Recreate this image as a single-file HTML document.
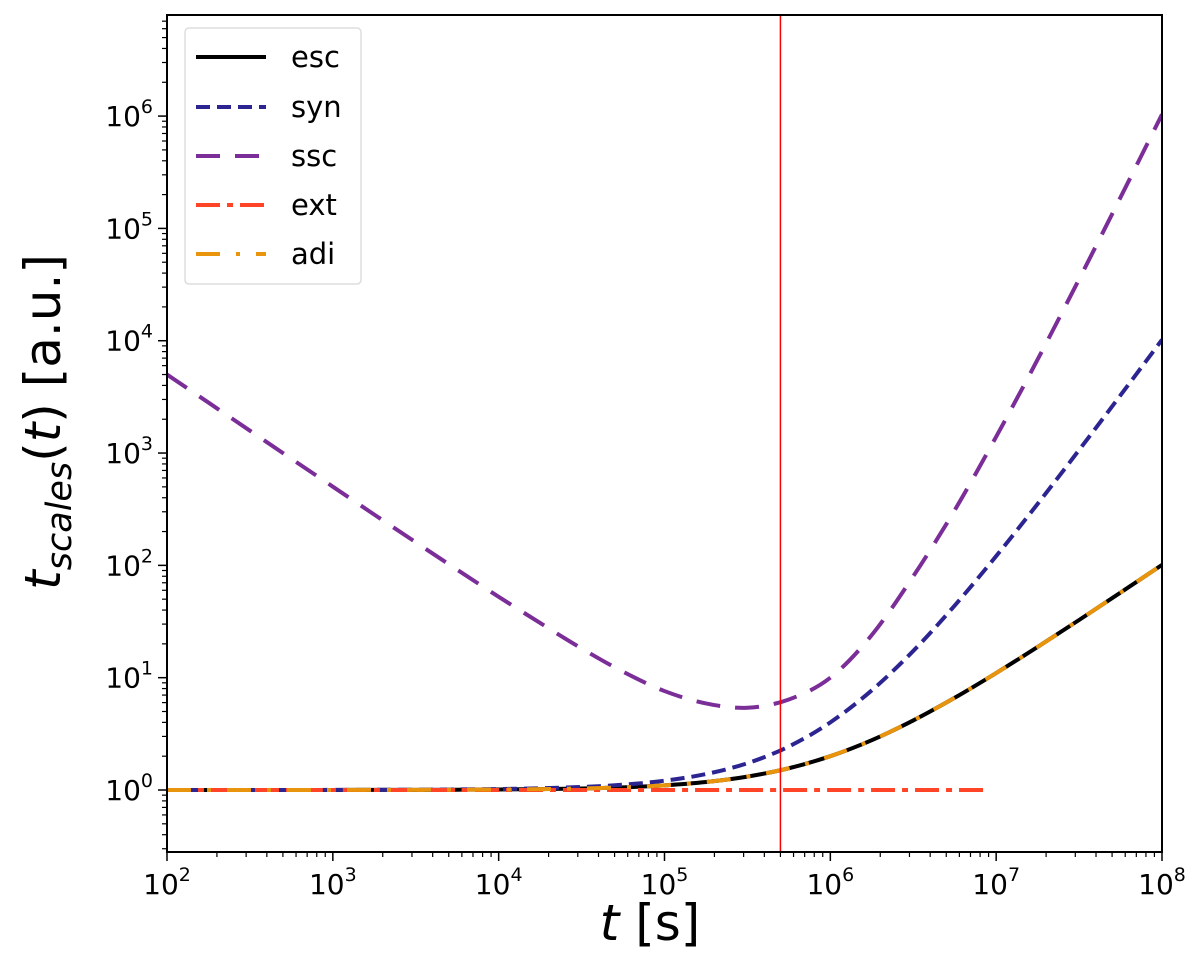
<!DOCTYPE html>
<html><head><meta charset="utf-8">
<style>
body{margin:0;background:#fff;}
svg text{font-family:"DejaVu Sans","Liberation Sans",sans-serif;fill:#000;}
</style></head>
<body>
<svg id="chart" width="1200" height="956" viewBox="0 0 1200 956" xmlns="http://www.w3.org/2000/svg">
<rect width="1200" height="956" fill="#fff"/>
<g id="plot"></g>
<rect x="167" y="15" width="995" height="837" fill="none" stroke="#000" stroke-width="2"/>
<g id="ticks"></g>
<text x="650" y="940" font-size="50" text-anchor="middle"><tspan font-style="italic">t</tspan> [s]</text>
<text transform="translate(60,422) rotate(-90)" font-size="50" text-anchor="middle"><tspan font-style="italic">t</tspan><tspan font-style="italic" font-size="35" dy="11">scales</tspan><tspan dy="-11">(</tspan><tspan font-style="italic">t</tspan>) [a.u.]</text>
<g id="legend">
<rect x="185" y="28" width="176" height="256" rx="4" fill="#fff" stroke="#ddd" stroke-width="1.5"/>
</g>
</svg>
<script>
// log10(t) sample positions
const tExp = [2,2.25,2.5,2.75,3,3.25,3.5,3.75,4,4.25,4.5,4.75,5,5.25,5.5,5.75,6,6.25,6.5,6.75,7,7.25,7.5,7.75,8];
const escVals = [1,1,1,1,1.001,1.002,1.003,1.006,1.01,1.018,1.032,1.056,1.1,1.178,1.316,1.562,2,2.778,4.162,6.623,11,18.78,32.62,57.23,101];
const synVals = [1,1,1,1,1.002,1.004,1.006,1.011,1.02,1.036,1.064,1.115,1.21,1.387,1.732,2.44,4,7.72,17.3,43.9,121,352.7,1064,3275,10201];
const sscVals = [5001,2813,1582,889,502,283,160.6,91.4,52.5,30.7,18.2,11.3,7.6,5.9,5.4,6.4,10,24,80,310,1398,6810,35260,189100,1035450];
const extExp = [2,6.95];
const extVals = [1,1];
const vlineT = [5e5];
const xTicks = [2,3,4,5,6,7,8];
const yTicks = [0,1,2,3,4,5,6];

const X0=167,X1=1162,Y0=852,Y1=15;
const xmin=2,xmax=8,ymin=-0.552,ymax=6.90;
function xs(e){return X0+(e-xmin)/(xmax-xmin)*(X1-X0);}
function ys(v){return Y0-(Math.log10(v)-ymin)/(ymax-ymin)*(Y0-Y1);}
const NS='http://www.w3.org/2000/svg';
function mk(tag,attrs,parent){const el=document.createElementNS(NS,tag);for(const k in attrs)el.setAttribute(k,attrs[k]);parent.appendChild(el);return el;}
function pathFor(ex,vals){
  const pts=ex.map((e,i)=>[xs(e),ys(vals[i])]);
  let d='M'+pts[0][0]+','+pts[0][1];
  for(let i=0;i<pts.length-1;i++){
    const p0=pts[Math.max(0,i-1)],p1=pts[i],p2=pts[i+1],p3=pts[Math.min(pts.length-1,i+2)];
    const c1=[p1[0]+(p2[0]-p0[0])/6,p1[1]+(p2[1]-p0[1])/6];
    const c2=[p2[0]-(p3[0]-p1[0])/6,p2[1]-(p3[1]-p1[1])/6];
    d+=' C'+c1+' '+c2+' '+p2;
  }
  return d;
}
const plot=document.getElementById('plot');
const clip=mk('clipPath',{id:'pc'},plot);mk('rect',{x:X0,y:Y1,width:X1-X0,height:Y0-Y1},clip);
const g=mk('g',{'clip-path':'url(#pc)'},plot);
const series=[
 {name:'esc',ex:tExp,v:escVals,c:'#000',dash:'none'},
 {name:'syn',ex:tExp,v:synVals,c:'#2c2591',dash:'14,7'},
 {name:'ssc',ex:tExp,v:sscVals,c:'#7b2d98',dash:'24,15'},
 {name:'ext',ex:extExp,v:extVals,c:'#ff4427',dash:'24,7,6,7'},
 {name:'adi',ex:tExp,v:escVals,c:'#e8940c',dash:'24,16,4,16'}
];
series.forEach(s=>{
  const p=mk('path',{d:pathFor(s.ex,s.v),fill:'none',stroke:s.c,'stroke-width':4,'stroke-dasharray':s.dash},g);
  
  
});
const vl=mk('line',{x1:xs(Math.log10(vlineT[0])),x2:xs(Math.log10(vlineT[0])),y1:Y1,y2:Y0,stroke:'#ff0000','stroke-width':1.5},g);



const tk=document.getElementById('ticks');
xTicks.forEach(e=>{
  const x=xs(e);
  mk('line',{x1:x,x2:x,y1:Y0,y2:Y0+9,stroke:'#000','stroke-width':1.5},tk);
  const t=mk('text',{x:x,y:Y0+42,'font-size':28,'text-anchor':'middle'},tk);
  
  
  t.innerHTML='10<tspan font-size="19" dy="-13">'+e+'</tspan>';
  if(e<xmax){for(let m=2;m<10;m++){const xm=xs(e+Math.log10(m));mk('line',{x1:xm,x2:xm,y1:Y0,y2:Y0+5,stroke:'#000','stroke-width':1.2},tk);}}
});
yTicks.forEach(e=>{
  const y=ys(Math.pow(10,e));
  mk('line',{x1:X0-9,x2:X0,y1:y,y2:y,stroke:'#000','stroke-width':1.5},tk);
  const t=mk('text',{x:X0-14,y:y+10,'font-size':28,'text-anchor':'end'},tk);
  
  
  t.innerHTML='10<tspan font-size="19" dy="-13">'+e+'</tspan>';
});
for(let e=-1;e<=6;e++){for(let m=2;m<10;m++){const lv=e+Math.log10(m);if(lv<ymin||lv>ymax)continue;const y=ys(Math.pow(10,lv));mk('line',{x1:X0-5,x2:X0,y1:y,y2:y,stroke:'#000','stroke-width':1.2},tk);}}

const lg=document.getElementById('legend');
const ly=[57,107,156,205,254];
series.forEach((s,i)=>{
  const l=mk('line',{x1:196,x2:266,y1:ly[i],y2:ly[i],stroke:s.c,'stroke-width':4,'stroke-dasharray':s.dash},lg);
  
  
  const t=mk('text',{x:291,y:ly[i]+10,'font-size':29},lg);
  
  
  t.textContent=s.name;
});
</script>
</body></html>
